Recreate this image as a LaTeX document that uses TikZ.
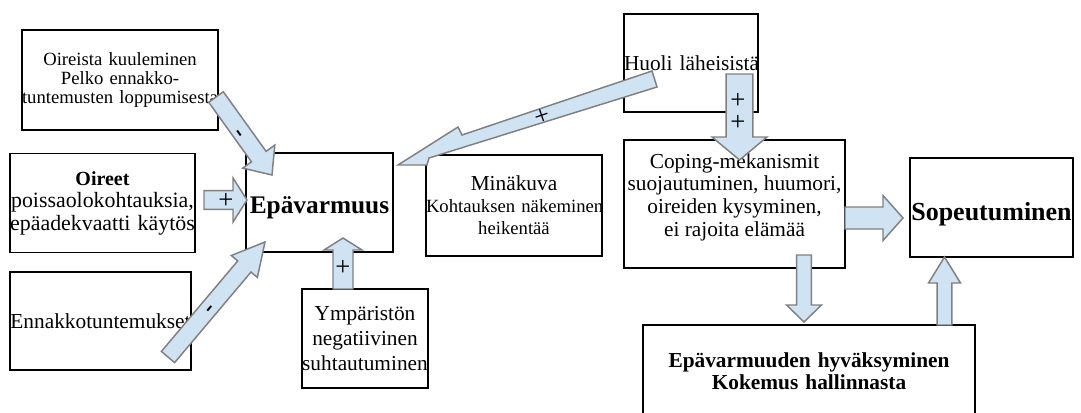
\documentclass[tikz,border=0pt]{standalone}
\usepackage{fontspec}
\setmainfont{Liberation Serif}
\usetikzlibrary{calc}
\definecolor{arrfill}{RGB}{207,227,242}
\definecolor{arrline}{RGB}{128,128,128}
% block arrow: start, tip, shaft half width, head half width, head length
\newcommand\blockarrow[5]{%
  \coordinate (bah) at ($(#2)!#5!(#1)$);
  \draw[arr] ($(#1)!#3!90:(#2)$) -- ($(bah)!#3!90:(#2)$) -- ($(bah)!#4!90:(#2)$) -- (#2)
    -- ($(bah)!#4!-90:(#2)$) -- ($(bah)!#3!-90:(#2)$) -- ($(#1)!#3!-90:(#2)$) -- cycle;}
\begin{document}
\begin{tikzpicture}[x=0.75pt,y=-0.75pt,
  box/.style={draw, line width=1.1pt, inner sep=0pt, align=center},
  arr/.style={fill=arrfill, draw=arrline, line width=1.1pt, line join=miter},
  pm/.style={inner sep=0pt, font=\fontsize{20}{20}\selectfont},
  mn/.style={inner sep=0pt, font=\bfseries\fontsize{18}{18}\selectfont}]
\clip (0,0) rectangle (1081,412);
\fill[white] (0,0) rectangle (1081,412);

% boxes
\node[box, text width=147pt, minimum height=75pt, font=\fontsize{14}{14.3}\selectfont] (oir) at (120,80)
  {Oireista kuuleminen\\Pelko ennakko-\\\mbox{tuntemusten loppumisesta}};
\node[box, text width=138.75pt, minimum height=74.25pt, font=\fontsize{16.4}{16.9}\selectfont] (oire) at (102.5,203)
  {{\bfseries\fontsize{15}{16.9}\selectfont Oireet}\\\mbox{poissaolokohtauksia,}\\\mbox{epäadekvaatti käytös}};
\node[box, text width=135.75pt, minimum height=73.5pt, font=\fontsize{16}{17}\selectfont] (enn) at (100.5,321)
  {\mbox{Ennakkotuntemukset}};
\node[box, text width=110.25pt, minimum height=74.25pt, text height=20.5pt, text depth=4.2pt,
  font=\bfseries\fontsize{19}{20}\selectfont] (epa) at (319.5,202.5)
  {\mbox{Epävarmuus}};
\node[box, text width=94.5pt, minimum height=74.25pt, font=\fontsize{16}{18.75}\selectfont] (ymp) at (365,338.5)
  {Ympäristön\\negatiivinen\\\mbox{suhtautuminen}};
\node[box, text width=132pt, minimum height=75.75pt, font=\fontsize{14}{16.5}\selectfont] (min) at (514,205.5)
  {{\fontsize{16}{16.5}\selectfont Minäkuva}\\\mbox{Kohtauksen näkeminen}\\heikentää};
\node[box, text width=100.5pt, minimum height=73.5pt, font=\fontsize{16}{17}\selectfont] (huo) at (691,63)
  {\mbox{Huoli läheisistä}};
\node[box, minimum width=165.75pt, minimum height=96pt] (copbox) at (734.5,204) {};
\node[inner sep=0pt, align=center, font=\fontsize{16}{17}\selectfont] (cop) at (734.5,197)
  {Coping-mekanismit\\suojautuminen, huumori,\\oireiden kysyminen,\\ei rajoita elämää};
\node[box, text width=122.25pt, minimum height=74.25pt, text height=24pt, text depth=4.5pt,
  font=\bfseries\fontsize{19.5}{20}\selectfont] (sop) at (991.5,207.5)
  {\mbox{Sopeutuminen}};
\node[box, text width=249pt, minimum height=69pt, font=\bfseries\fontsize{16}{16.5}\selectfont] (acc) at (809,371)
  {Epävarmuuden hyväksyminen\\Kokemus hallinnasta};

% arrow end points
\coordinate (a1s) at (216,97);    \coordinate (a1e) at (272,175);
\coordinate (a2s) at (204,200);   \coordinate (a2e) at (247,200);
\coordinate (a3s) at (168,357);   \coordinate (a3e) at (265,242);
\coordinate (a4s) at (343,289);   \coordinate (a4e) at (343,238);
\coordinate (a6s) at (739.5,74);  \coordinate (a6e) at (739.5,160);
\coordinate (a7s) at (845,218);   \coordinate (a7e) at (903,218);
\coordinate (a8s) at (804,255);   \coordinate (a8e) at (804,322);
\coordinate (a9s) at (944.5,325); \coordinate (a9e) at (944.5,257);

% arrows
\blockarrow{a1s}{a1e}{6.75pt}{14.8pt}{17pt}
\blockarrow{a2s}{a2e}{7.1pt}{16.5pt}{10.5pt}
\blockarrow{a3s}{a3e}{6.5pt}{12.75pt}{24pt}
\blockarrow{a4s}{a4e}{7.5pt}{14.25pt}{9pt}
\blockarrow{a6s}{a6e}{10.1pt}{20.6pt}{17.25pt}
\blockarrow{a7s}{a7e}{8.25pt}{16.9pt}{15pt}
\blockarrow{a8s}{a8e}{5.6pt}{13.1pt}{12.75pt}
\blockarrow{a9s}{a9e}{5.6pt}{12pt}{19.5pt}
% Huoli -> Epavarmuus (skewed head)
\coordinate (a5tu) at (652,71);
\coordinate (a5tl) at (657,87);
\coordinate (a5e) at (398,165);
\draw[arr] (a5tu) -- (462,135) -- (458,127) -- (a5e) -- (427,165) -- (429,158) -- (a5tl) -- cycle;

% signs
\node[mn, rotate=-54.3] (m1) at (238,135) {-};
\node[pm] (p2) at (226,201) {+};
\node[mn, rotate=49.9] (m3) at (212,310) {-};
\node[pm] (p4) at (343,268) {+};
\node[pm, rotate=18.7] (p5) at (542,117) {+};
\node[pm, align=center, font=\fontsize{20}{16.5}\selectfont] (p6) at (738,111.5) {+\\+};
\end{tikzpicture}
\end{document}
